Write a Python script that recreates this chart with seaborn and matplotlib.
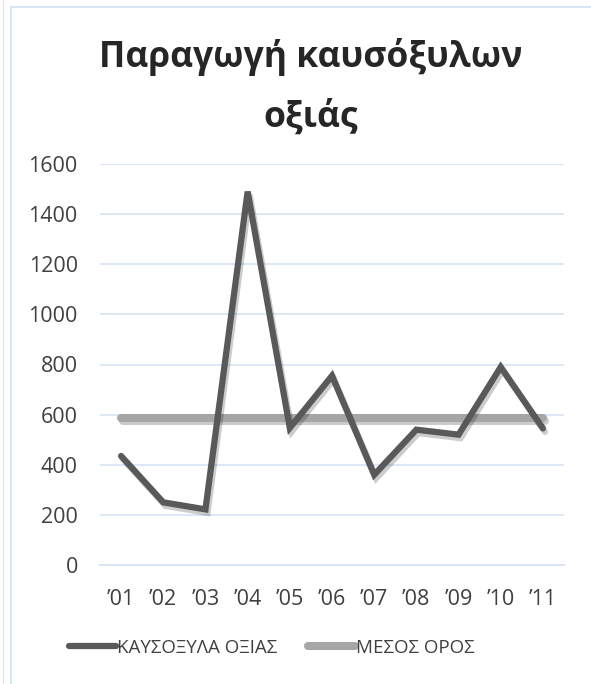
import matplotlib
matplotlib.use("Agg")
import matplotlib.pyplot as plt
import matplotlib.patheffects as pe
from matplotlib.lines import Line2D
import numpy as np
import pandas as pd
import seaborn as sns

# Beech firewood production per year
years = ["\u201901", "\u201902", "\u201903", "\u201904", "\u201905", "\u201906",
         "\u201907", "\u201908", "\u201909", "\u201910", "\u201911"]
firewood = [435, 250, 222, 1490, 547, 755, 360, 540, 520, 790, 545]
average = [587] * len(years)

series_names = ["ΚΑΥΣΟΞΥΛΑ ΟΞΙΑΣ", "ΜΕΣΟΣ ΟΡΟΣ"]
yticks = [0, 200, 400, 600, 800, 1000, 1200, 1400, 1600]

sns.set_theme(style="white")
plt.rcParams["font.family"] = ["Open Sans", "DejaVu Sans"]

df = pd.DataFrame({
    "pos": list(range(len(years))) * 2,
    "value": firewood + average,
    "series": [series_names[0]] * len(years) + [series_names[1]] * len(years),
})

fig = plt.figure(figsize=(5.91, 6.84), dpi=100)
ax = fig.add_axes([100 / 591, 1 - 565 / 684, 464 / 591, (565 - 164) / 684])

dark = "#595959"
light = "#a6a6a6"
grid_c = "#d6e4f5"

shadow = [pe.SimpleLineShadow(offset=(1.5, -2.5), shadow_color="black", alpha=0.2),
          pe.Normal()]

sns.lineplot(data=df[df.series == series_names[1]], x="pos", y="value", ax=ax,
             color=light, linewidth=5.8, solid_capstyle="round", legend=False, zorder=3)
sns.lineplot(data=df[df.series == series_names[0]], x="pos", y="value", ax=ax,
             color=dark, linewidth=4.5, solid_capstyle="round", solid_joinstyle="miter",
             legend=False, zorder=4)
for ln in ax.lines:
    ln.set_path_effects(shadow)

ax.set_xlim(-0.5, len(years) - 0.5)
ax.set_ylim(0, 1600)
ax.set_yticks(yticks)
ax.set_yticklabels([str(v) for v in yticks])
ax.set_xticks(range(len(years)))
ax.set_xticklabels(years)
ax.set_xlabel("")
ax.set_ylabel("")

for v in yticks[1:]:
    ax.axhline(v, color=grid_c, linewidth=1.2, zorder=1)

for s in ["top", "right", "left"]:
    ax.spines[s].set_visible(False)
ax.spines["bottom"].set_color(grid_c)
ax.spines["bottom"].set_linewidth(1.3)

ax.set_xticks(np.arange(-0.5, len(years), 1.0), minor=True)
ax.tick_params(axis="x", which="major", length=0, pad=17, labelsize=15.5, colors="#404040")
ax.tick_params(axis="x", which="minor", length=7, width=1.3, color=grid_c, direction="out")
ax.tick_params(axis="y", length=0, pad=16, labelsize=15.5, colors="#404040")

fig.text(0.525, 0.873, "Παραγωγή καυσόξυλων\nοξιάς", ha="center", va="center",
         fontsize=25.5, fontweight="bold", color="#262626", linespacing=1.85)

# chart frame
fig.add_artist(Line2D([11 / 591, 11 / 591], [0, 1 - 7 / 684], transform=fig.transFigure,
                      color=grid_c, linewidth=1.3))
fig.add_artist(Line2D([11 / 591, 1], [1 - 7 / 684, 1 - 7 / 684], transform=fig.transFigure,
                      color=grid_c, linewidth=1.3))
fig.add_artist(Line2D([2.5 / 591, 2.5 / 591], [0, 1], transform=fig.transFigure,
                      color="#e6e6e6", linewidth=1.0))

handles = [Line2D([], [], color=dark, linewidth=4.5, solid_capstyle="round"),
           Line2D([], [], color=light, linewidth=5.8, solid_capstyle="round")]
fig.legend(handles, series_names, loc="center", bbox_to_anchor=(0.46, 1 - 648 / 684),
           ncol=2, frameon=False, fontsize=13.5, handlelength=2.5, handletextpad=0.1,
           columnspacing=1.6, labelcolor="#404040")

fig.savefig("out.png", dpi=100)
